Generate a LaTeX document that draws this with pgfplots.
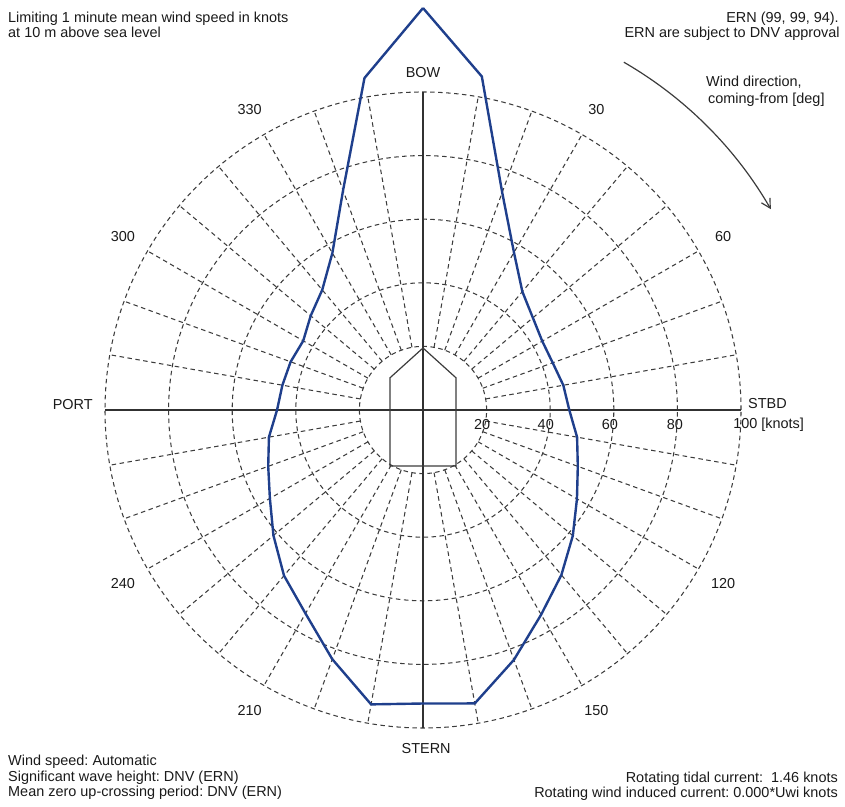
\documentclass[border=0pt]{standalone}
\usepackage{pgfplots}
\pgfplotsset{compat=1.18}
\usepackage{pgfplotstable}
\usepackage{fontspec}
\setmainfont{Liberation Sans}
\usetikzlibrary{arrows.meta}
\frenchspacing

\definecolor{capblue}{HTML}{1F3F8C}
\definecolor{gridgray}{HTML}{3C3C3C}
\definecolor{ink}{HTML}{1A1A1A}

% limiting wind speed [knots] against wind direction [deg, coming-from]
\pgfplotstableread{
a   r
0   126.4
10  106.5
20  72.8
30  57.2
40  48.6
50  45.1
60  43.3
70  43.4
80  44.8
90  46.0
100 49.2
110 51.8
120 55.9
130 61.5
140 67.7
150 74.3
160 83.6
170 93.7
180 92.3
190 94.0
200 83.4
210 73.9
220 68.0
230 61.4
240 55.6
250 51.8
260 49.2
270 45.9
280 44.9
290 44.3
300 43.5
310 46.1
320 49.3
330 57.0
340 73.5
350 106.0
360 126.4
}\caplimit

\tikzset{
  gridline/.style={gridgray, line width=1.05bp, dash pattern=on 4.5bp off 3.5bp},
  axline/.style={ink!90, line width=1.2bp},
  lbl/.style={ink, inner sep=0pt},
}

\begin{document}
\begin{tikzpicture}[font=\fontsize{14.5}{16}\selectfont]
\begin{axis}[
    x=3.18bp, y=3.18bp,
    xmin=-133.02, xmax=132.70,
    ymin=-124.84, ymax=128.93,
    hide axis,
    clip=false,
]
\path (rel axis cs:0,0) rectangle (rel axis cs:1,1);

% polar grid
\pgfplotsinvokeforeach{20,40,60,80,100}{
    \draw[gridline] (axis cs:0,0) circle[radius=#1*3.18bp];
}
\pgfplotsinvokeforeach{10,20,30,40,50,60,70,80,100,110,120,130,140,150,160,170,190,200,210,220,230,240,250,260,280,290,300,310,320,330,340,350}{
    \draw[gridline] (axis cs:{20*sin(#1)},{20*cos(#1)}) -- (axis cs:{100*sin(#1)},{100*cos(#1)});
}
\draw[axline] (axis cs:-100,0) -- (axis cs:100,0);
\draw[axline] (axis cs:0,-100) -- (axis cs:0,100);

% vessel outline
\draw[ink!85, line width=1.2bp] (axis cs:0,19.5) -- (axis cs:10.4,10.1) -- (axis cs:10.4,-17.6)
    -- (axis cs:-10.4,-17.6) -- (axis cs:-10.4,10.1) -- cycle;

% capability curve
\addplot[capblue, line width=2.4bp, line join=round] table[
    x expr={\thisrow{r}*sin(\thisrow{a})},
    y expr={\thisrow{r}*cos(\thisrow{a})}] {\caplimit};

% direction labels
\pgfplotsinvokeforeach{30,60,120,150,210,240,300,330}{
    \node[lbl] at (axis cs:{109*sin(#1)},{109*cos(#1)}) {#1};
}
\node[lbl] at (axis cs:0,106) {BOW};
\node[lbl] at (axis cs:1,-106.3) {STERN};
\node[lbl, anchor=east] at (axis cs:-103.8,1.6) {PORT};
\node[lbl, anchor=west] at (axis cs:102.2,1.9) {STBD};

% speed labels
\node[lbl] at (axis cs:18.6,-4.7) {20};
\node[lbl] at (axis cs:38.6,-4.7) {40};
\node[lbl] at (axis cs:58.8,-4.7) {60};
\node[lbl] at (axis cs:79.2,-4.7) {80};
\node[lbl, anchor=west] at (axis cs:97.5,-4.7) {100 [knots]};

% wind direction arrow
\draw[gridgray, line width=1.2bp, -{Straight Barb[length=9bp, width=10bp]}]
    (axis cs:0,0) ++(60:401.6bp) arc[start angle=60, end angle=30, radius=401.6bp];
\node[lbl, anchor=base west] at (axis cs:89.0,101.6) {Wind direction,};
\node[lbl, anchor=base west] at (axis cs:89.6,96.4) {coming-from [deg]};

% header and footer notes
\node[lbl, anchor=base west] at (axis cs:-130.5,122.0) {Limiting 1 minute mean wind speed in knots};
\node[lbl, anchor=base west] at (axis cs:-130.5,117.0) {at 10 m above sea level};
\node[lbl, anchor=base east] at (axis cs:130.8,122.0) {ERN (99, 99, 94).};
\node[lbl, anchor=base east] at (axis cs:131.1,117.0) {ERN are subject to DNV approval};

\node[lbl, anchor=base west] at (axis cs:-130.5,-111.9) {Wind speed: Automatic};
\node[lbl, anchor=base west] at (axis cs:-130.5,-116.8) {Significant wave height: DNV (ERN)};
\node[lbl, anchor=base west] at (axis cs:-130.5,-121.6) {Mean zero up-crossing period: DNV (ERN)};
\node[lbl, anchor=base east] at (axis cs:130.5,-117.2) {Rotating tidal current:\ \ 1.46 knots};
\node[lbl, anchor=base east] at (axis cs:130.5,-122.0) {Rotating wind induced current: 0.000*Uwi knots};
\end{axis}
\end{tikzpicture}
\end{document}
